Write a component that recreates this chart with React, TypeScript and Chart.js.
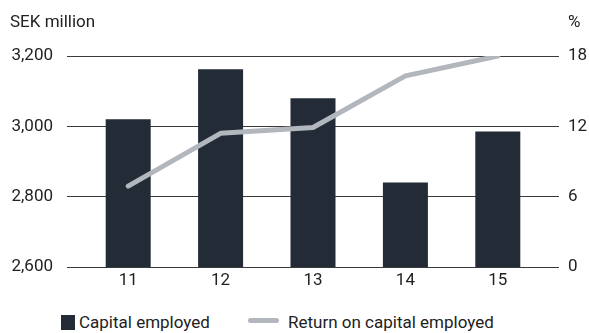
import React, { useEffect, useRef } from "react";
import { Chart, registerables } from "chart.js";

Chart.register(...registerables);

const categories = ["11", "12", "13", "14", "15"];
const capitalEmployed = [3020, 3162, 3080, 2840, 2985];
const returnOnCapital = [6.9, 11.4, 11.9, 16.3, 18.0];
const leftTicks = [2600, 2800, 3000, 3200];
const rightTicks = [0, 6, 12, 18];

const FONT = "Roboto, 'Open Sans', sans-serif";
const TEXT = "#222222";
const BAR = "#222b36";
const LINE = "#b2b6bd";
const GRID = "#3a3a3a";

export default function App() {
  const ref = useRef<HTMLCanvasElement | null>(null);

  useEffect(() => {
    if (!ref.current) return;
    const chart = new Chart(ref.current, {
      type: "bar",
      data: {
        labels: categories,
        datasets: [
          {
            type: "line",
            label: "Return on capital employed",
            data: returnOnCapital,
            yAxisID: "y1",
            borderColor: LINE,
            backgroundColor: LINE,
            borderWidth: 5,
            borderCapStyle: "round",
            borderJoinStyle: "round",
            pointRadius: 0,
            tension: 0,
            order: 0,
          } as any,
          {
            type: "bar",
            label: "Capital employed",
            data: capitalEmployed,
            yAxisID: "y",
            backgroundColor: BAR,
            barPercentage: 0.487,
            categoryPercentage: 1,
            order: 1,
          },
        ],
      },
      options: {
        animation: false,
        responsive: false,
        maintainAspectRatio: false,
        layout: { padding: { top: 56, left: 0, right: 0, bottom: 0 } },
        plugins: {
          legend: { display: false },
          tooltip: { enabled: false },
        },
        scales: {
          x: {
            offset: true,
            afterFit: (s: any) => {
              s.height = 33;
            },
            grid: { display: false, drawTicks: false },
            border: { display: false },
            ticks: {
              color: TEXT,
              font: { family: FONT, size: 17 },
              padding: 4,
            },
          },
          y: {
            position: "left",
            min: leftTicks[0],
            max: leftTicks[leftTicks.length - 1],
            afterBuildTicks: (s: any) => {
              s.ticks = leftTicks.map((v) => ({ value: v }));
            },
            afterFit: (s: any) => {
              s.width = 82;
            },
            grid: { color: GRID, lineWidth: 1, drawTicks: true, tickLength: 15 },
            border: { display: false },
            ticks: {
              color: TEXT,
              font: { family: FONT, size: 17 },
              padding: 14,
              callback: (v: any) => Number(v).toLocaleString("en-US"),
            },
          },
          y1: {
            position: "right",
            min: rightTicks[0],
            max: rightTicks[rightTicks.length - 1],
            afterBuildTicks: (s: any) => {
              s.ticks = rightTicks.map((v) => ({ value: v }));
            },
            afterFit: (s: any) => {
              s.width = 45;
            },
            grid: {
              color: GRID,
              lineWidth: 1,
              drawOnChartArea: false,
              drawTicks: true,
              tickLength: 15,
            },
            border: { display: false },
            ticks: {
              color: TEXT,
              font: { family: FONT, size: 17 },
              padding: 9,
            },
          },
        },
      },
    });
    return () => chart.destroy();
  }, []);

  const textStyle: React.CSSProperties = {
    position: "absolute",
    fontFamily: FONT,
    fontSize: 17,
    color: TEXT,
    lineHeight: "20px",
    whiteSpace: "nowrap",
  };

  return (
    <div style={{ position: "absolute", left: 0, top: 0, width: 589, height: 333, background: "#fff" }}>
      <canvas ref={ref} width={589} height={300} style={{ position: "absolute", left: 0, top: 0, width: 589, height: 300 }} />
      <div style={{ ...textStyle, left: 10, top: 11 }}>SEK million</div>
      <div style={{ ...textStyle, left: 568, top: 11 }}>%</div>
      <div style={{ position: "absolute", left: 61, top: 315, width: 14, height: 15, background: BAR }} />
      <div style={{ ...textStyle, left: 79, top: 312 }}>Capital employed</div>
      <div style={{ position: "absolute", left: 248, top: 318, width: 31, height: 5, borderRadius: 3, background: LINE }} />
      <div style={{ ...textStyle, left: 288, top: 312 }}>Return on capital employed</div>
    </div>
  );
}
